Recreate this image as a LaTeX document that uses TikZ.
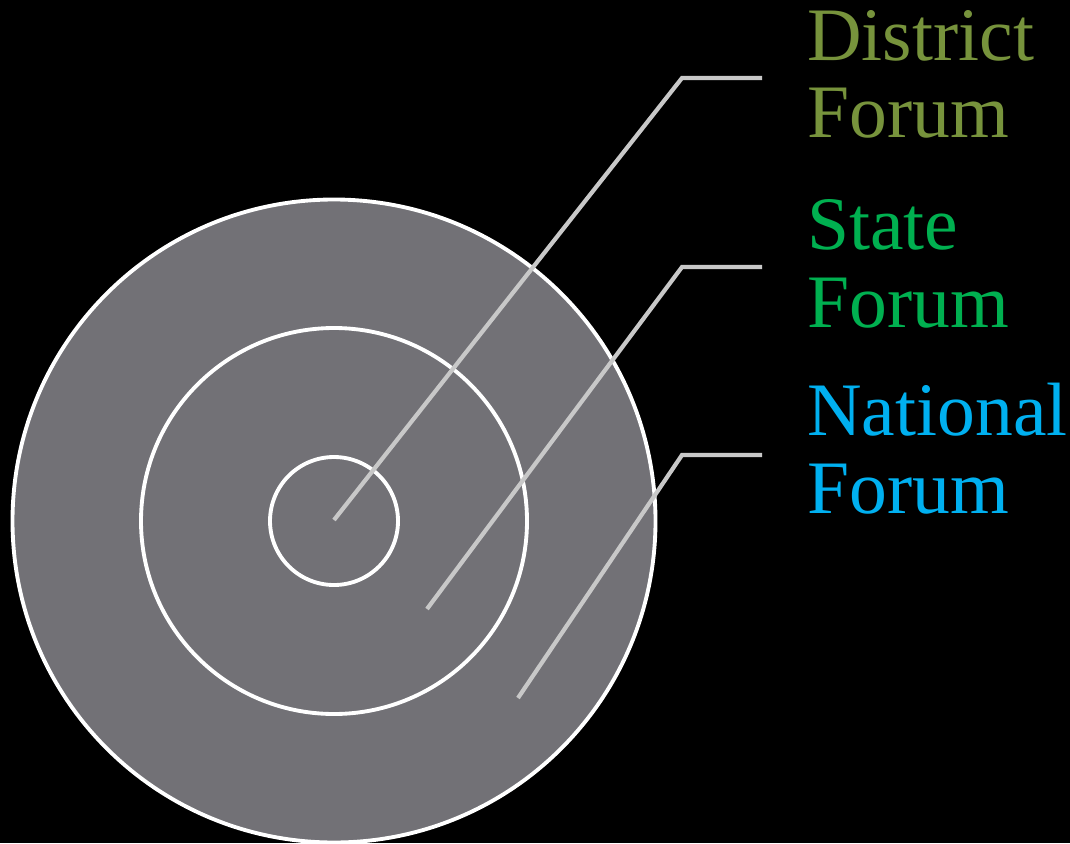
\documentclass[tikz,border=0pt]{standalone}
\usepackage{fontspec}
\setmainfont{Liberation Serif}
\usetikzlibrary{positioning,calc}
\definecolor{RingGray}{RGB}{114,113,118}
\definecolor{LeaderGray}{RGB}{200,200,200}
\definecolor{DistrictOlive}{RGB}{119,147,60}
\definecolor{StateGreen}{RGB}{0,176,80}
\definecolor{NationalBlue}{RGB}{0,176,240}
\tikzset{
  ring/.style={draw=white,fill=RingGray,line width=2.2pt},
  leader/.style={draw=LeaderGray,line width=2.4pt},
  lbl/.style={anchor=base west,align=left,inner sep=0pt,
              font=\fontsize{43}{44}\selectfont},
}

\begin{document}
\begin{tikzpicture}[x=0.02cm,y=0.02cm]
\fill[black] (0,0) rectangle (1070,843);
\useasboundingbox (0,0) rectangle (1070,843);

% target rings
\coordinate (center) at (334,322);
\draw[ring] (center) circle (321.5);
\draw[ring] (center) circle (193);
\draw[ring] (center) circle (64);

% leader points
\coordinate (dIn) at (334,323);
\coordinate (dBend) at (682,765);
\coordinate (dEnd) at (762,765);
\coordinate (sIn) at (427,234);
\coordinate (sBend) at (682,576);
\coordinate (sEnd) at (762,576);
\coordinate (nIn) at (518,145);
\coordinate (nBend) at (682,388);
\coordinate (nEnd) at (762,388);

\draw[leader] (dIn)--(dBend)--(dEnd);
\draw[leader] (sIn)--(sBend)--(sEnd);
\draw[leader] (nIn)--(nBend)--(nEnd);

% labels (base = last line)
\node[lbl,text=DistrictOlive] (district) at (807,705) {District\\Forum};
\node[lbl,text=StateGreen] (state) at (807,516) {State\\Forum};
\node[lbl,text=NationalBlue] (national) at (807,330) {National\\Forum};
\end{tikzpicture}
\end{document}
